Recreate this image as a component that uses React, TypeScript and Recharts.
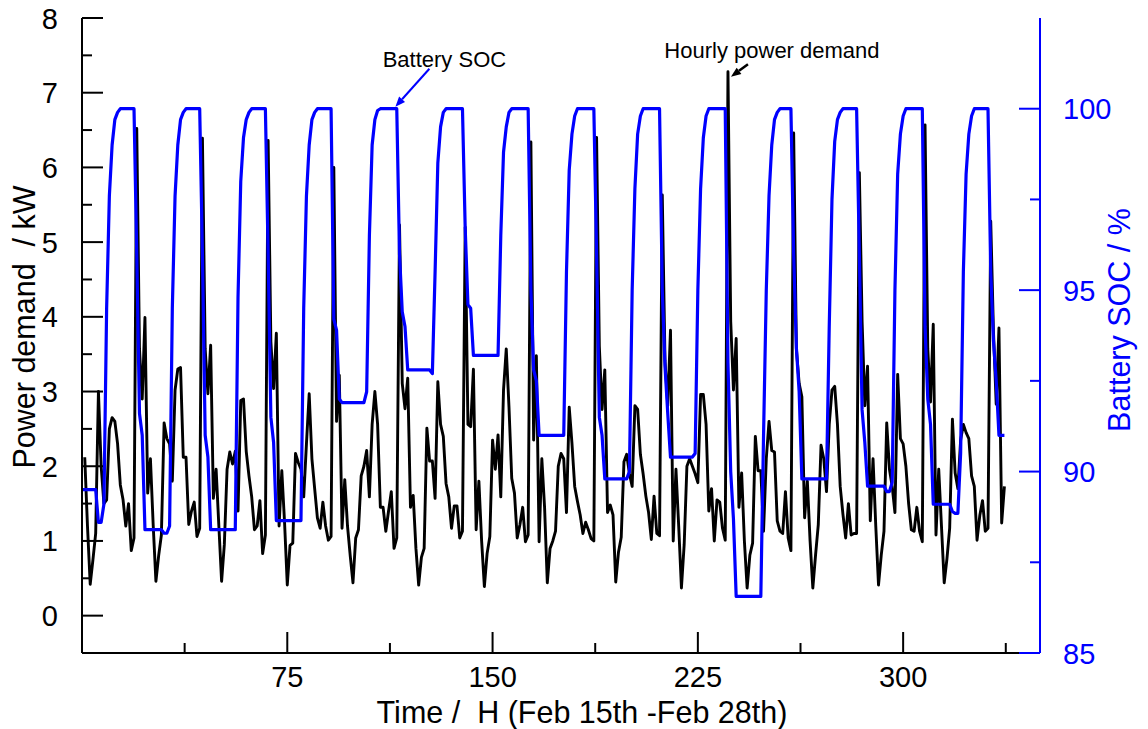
import React from 'react';
import { ComposedChart, Line, XAxis, YAxis, ReferenceDot } from 'recharts';

// Battery state of charge (%) for hours 0..337
const socPercent: number[] = [
  89.5, 89.5, 89.5, 89.5, 89.5, 89.5, 88.6, 88.6, 89.1, 94.5, 97.6, 99.0, 99.7, 99.9, 100, 100, 100, 100, 100, 100, 96, 91.6, 91.0, 88.4,
  88.4, 88.4, 88.4, 88.4, 88.4, 88.4, 88.3, 88.3, 88.5, 94.5, 97.6, 99.0, 99.7, 99.9, 100, 100, 100, 100, 100, 100, 96, 91.0, 90.4, 88.4,
  88.4, 88.4, 88.4, 88.4, 88.4, 88.4, 88.4, 88.4, 88.4, 94.8, 98.0, 99.2, 99.7, 99.9, 100, 100, 100, 100, 100, 100, 96, 91.5, 90.8, 88.65,
  88.65, 88.65, 88.65, 88.65, 88.65, 88.65, 88.65, 88.65, 88.65, 94.5, 97.6, 99.0, 99.7, 99.9, 100, 100, 100, 100, 100, 100, 94.2, 93.9, 92.0, 91.9,
  91.9, 91.9, 91.9, 91.9, 91.9, 91.9, 91.9, 91.9, 92.2, 96.5, 99.0, 99.7, 99.95, 100, 100, 100, 100, 100, 100, 100, 96, 94.4, 94.0, 92.8,
  92.8, 92.8, 92.8, 92.8, 92.8, 92.8, 92.8, 92.8, 92.7, 95.5, 98.5, 99.5, 99.9, 100, 100, 100, 100, 100, 100, 100, 96.7, 94.6, 94.5, 93.2,
  93.2, 93.2, 93.2, 93.2, 93.2, 93.2, 93.2, 93.2, 93.2, 96.5, 98.8, 99.5, 99.9, 100, 100, 100, 100, 100, 100, 100, 95, 92.8, 92.5, 91.0,
  91.0, 91.0, 91.0, 91.0, 91.0, 91.0, 91.0, 91.0, 91.0, 95.5, 98.3, 99.3, 99.8, 100, 100, 100, 100, 100, 100, 100, 96, 91.5, 91.0, 89.8,
  89.8, 89.8, 89.8, 89.8, 89.8, 89.8, 89.8, 89.8, 90.0, 95, 97.8, 99.3, 99.8, 100, 100, 100, 100, 100, 100, 100, 95, 92.9, 91.6, 90.4,
  90.4, 90.4, 90.4, 90.4, 90.4, 90.4, 90.4, 90.4, 90.5, 95, 97.8, 99.2, 99.8, 100, 100, 100, 100, 100, 100, 100, 93, 90, 88.7, 86.56,
  86.56, 86.56, 86.56, 86.56, 86.56, 86.56, 86.56, 86.56, 86.56, 91, 95, 97.6, 99, 99.7, 99.9, 100, 100, 100, 100, 100, 96, 93.4, 92.2, 89.8,
  89.8, 89.8, 89.8, 89.8, 89.8, 89.8, 89.8, 89.8, 89.8, 94, 97.5, 99.1, 99.7, 99.9, 100, 100, 100, 100, 100, 100, 96, 91.7, 90.8, 89.6,
  89.6, 89.6, 89.6, 89.6, 89.6, 89.6, 89.45, 89.45, 89.7, 95, 98.2, 99.3, 99.8, 100, 100, 100, 100, 100, 100, 100, 94, 92, 91.3, 89.1,
  89.1, 89.1, 89.1, 89.1, 89.1, 89.1, 88.9, 88.85, 88.85, 90.5, 95.5, 98.2, 99.3, 99.8, 100, 100, 100, 100, 100, 100, 95.5, 93.6, 92.5, 91.0,
  91.0, 91.0,
];

// Hourly power demand (kW) for hours 0..337 (no value at hour 0)
const powerDemandKW: (number | null)[] = [
  null, 2.12, 1.2, 0.42, 0.75, 1.1, 3.0, 2.0, 1.5, 1.55, 2.5, 2.65, 2.6, 2.3, 1.75, 1.55, 1.2, 1.5, 0.87, 1.04, 6.52, 3.57, 2.9, 3.99,
  1.64, 2.1, 1.22, 0.46, 0.8, 1.08, 2.58, 2.37, 2.3, 1.8, 3.02, 3.3, 3.32, 2.12, 2.12, 1.22, 1.4, 1.52, 1.06, 1.17, 6.39, 3.57, 2.97, 3.62,
  1.57, 1.96, 1.2, 0.46, 0.95, 1.96, 2.19, 2.03, 2.2, 1.4, 2.88, 2.9, 2.2, 1.87, 1.59, 1.15, 1.2, 1.54, 0.83, 1.08, 6.36, 3.67, 3.04, 3.78,
  1.2, 1.94, 1.25, 0.41, 0.94, 0.97, 2.17, 2.05, 1.96, 1.59, 2.3, 2.97, 2.1, 1.7, 1.31, 1.17, 1.52, 1.2, 1.01, 1.06, 6.0, 2.6, 3.22, 1.17,
  1.82, 1.2, 0.8, 0.44, 1.04, 1.15, 1.87, 2.0, 2.21, 1.59, 2.56, 3.0, 2.56, 1.45, 1.45, 1.13, 1.4, 1.66, 0.9, 1.04, 5.23, 3.11, 2.77, 3.18,
  1.45, 1.61, 0.9, 0.41, 0.78, 0.9, 2.51, 2.07, 2.07, 1.57, 3.13, 2.56, 2.4, 1.77, 1.59, 1.17, 1.47, 1.47, 1.04, 1.13, 5.2, 2.56, 2.53, 3.3,
  1.15, 1.8, 1.0, 0.39, 0.83, 1.06, 2.35, 1.96, 2.42, 1.59, 3.02, 3.57, 2.79, 1.84, 1.64, 1.04, 1.22, 1.45, 0.99, 1.08, 6.34, 2.35, 3.48, 0.99,
  2.1, 1.45, 0.44, 0.9, 1.0, 1.13, 2.0, 2.17, 2.1, 1.38, 2.79, 2.31, 1.73, 1.53, 1.35, 1.1, 1.25, 1.15, 1.03, 1.0, 6.4, 3.61, 2.76, 3.29,
  1.38, 1.48, 1.35, 0.45, 0.85, 1.05, 2.06, 2.16, 1.9, 1.73, 2.81, 2.76, 2.16, 1.9, 1.6, 1.38, 1.02, 1.6, 1.1, 1.07, 5.63, 3.41, 2.81, 3.82,
  1.0, 1.96, 1.2, 0.37, 0.95, 2.0, 2.1, 2.0, 1.9, 1.78, 2.96, 2.96, 2.56, 1.4, 1.7, 1.0, 1.55, 1.52, 1.17, 1.01, 7.28, 3.94, 3.02, 3.71,
  1.45, 1.91, 1.0, 0.37, 0.81, 0.97, 2.4, 1.94, 1.94, 1.13, 2.1, 2.6, 2.21, 2.19, 1.27, 1.13, 1.1, 1.66, 1.04, 0.87, 6.46, 3.57, 3.11, 2.93,
  1.31, 1.8, 1.0, 0.37, 0.81, 1.22, 2.28, 2.1, 1.66, 2.56, 3.02, 3.07, 2.56, 1.73, 1.36, 1.04, 1.5, 1.08, 1.1, 1.1, 5.93, 3.94, 2.81, 3.34,
  1.27, 2.1, 1.2, 0.41, 0.81, 1.13, 2.58, 1.96, 1.73, 1.38, 3.23, 2.37, 2.3, 2.0, 1.5, 1.15, 1.13, 1.45, 1.13, 0.99, 6.57, 3.57, 2.86, 3.9,
  1.08, 1.96, 1.2, 0.44, 0.76, 1.17, 2.63, 1.91, 1.7, 2.35, 2.56, 2.45, 2.37, 1.87, 1.73, 1.01, 1.34, 1.54, 1.13, 1.17, 5.28, 3.8, 2.83, 3.85,
  1.24, 1.73,
];

const hours: number[] = socPercent.map((_, i) => i);

const xMajorTicks = [75, 150, 225, 300];
const xMinorTicks = [37.5, 112.5, 187.5, 262.5, 337.5];
const powerMajorTicks = [0, 1, 2, 3, 4, 5, 6, 7, 8];
const powerMinorTicks = [0.5, 1.5, 2.5, 3.5, 4.5, 5.5, 6.5, 7.5];
const socMajorTicks = [85, 90, 95, 100];
const socMinorTicks = [87.5, 92.5, 97.5];

const xTitle = 'Time /  H (Feb 15th -Feb 28th)';
const powerTitle = 'Power demand  / kW';
const socTitle = 'Battery SOC / %';
const socNote = 'Battery SOC';
const powerNote = 'Hourly power demand';
const socNoteAt = { hour: 114.5, soc: 100 };
const powerNoteAt = { hour: 236, power: 7.28 };

const data = hours.map((h, i) => ({ hour: h, power: powerDemandKW[i], soc: socPercent[i] }));

const FONT = '"Liberation Sans", Arial, Helvetica, sans-serif';
const BLUE = '#0000ff';

type Side = 'bottom' | 'top' | 'left' | 'right';

function makeTick(side: Side, majors: number[], color: string, showLabels: boolean) {
  return function Tick(props: any) {
    const { x, y, payload } = props;
    const v = Number(payload.value);
    const major = majors.indexOf(v) >= 0;
    const len = major ? 21 : 10;
    let x2 = x;
    let y2 = y;
    if (side === 'bottom') y2 = y - len;
    if (side === 'top') y2 = y + len;
    if (side === 'left') x2 = x + len;
    if (side === 'right') x2 = x - len;
    let label: React.ReactNode = null;
    if (showLabels && major) {
      const common = { fontFamily: FONT, fontSize: 29, fill: color };
      if (side === 'bottom')
        label = (
          <text x={x} y={y + 34} textAnchor="middle" {...common}>
            {v}
          </text>
        );
      if (side === 'left')
        label = (
          <text x={x - 24} y={y + 10.5} textAnchor="end" {...common}>
            {v}
          </text>
        );
      if (side === 'right')
        label = (
          <text x={x + 23} y={y + 10.5} textAnchor="start" {...common}>
            {v}
          </text>
        );
    }
    return (
      <g>
        <line x1={x} y1={y} x2={x2} y2={y2} stroke={color} strokeWidth={2} />
        {label}
      </g>
    );
  };
}

function Arrow({ x1, y1, x2, y2, color, width }: any) {
  const dx = x2 - x1;
  const dy = y2 - y1;
  const L = Math.hypot(dx, dy) || 1;
  const ux = dx / L;
  const uy = dy / L;
  const hl = 10;
  const hw = 4;
  const bx = x2 - ux * hl;
  const by = y2 - uy * hl;
  const pts = `${x2},${y2} ${bx - uy * hw},${by + ux * hw} ${bx + uy * hw},${by - ux * hw}`;
  return (
    <g>
      <line x1={x1} y1={y1} x2={bx} y2={by} stroke={color} strokeWidth={width} />
      <polygon points={pts} fill={color} />
    </g>
  );
}

const socNoteShape = (p: any) => {
  const { cx, cy } = p;
  return (
    <g>
      <Arrow x1={cx + 34} y1={cy - 40} x2={cx} y2={cy - 2} color={BLUE} width={2} />
      <text x={cx + 49} y={cy - 42} textAnchor="middle" fontFamily={FONT} fontSize={22} fill="#000">
        {socNote}
      </text>
    </g>
  );
};

const powerNoteShape = (p: any) => {
  const { cx, cy } = p;
  return (
    <g>
      <Arrow x1={cx + 20} y1={cy - 7.5} x2={cx + 3} y2={cy + 5} color="#000" width={2.5} />
      <text x={cx + 44} y={cy - 13.5} textAnchor="middle" fontFamily={FONT} fontSize={22} fill="#000">
        {powerNote}
      </text>
    </g>
  );
};

export default function App() {
  const W = 1140;
  const H = 721;
  return (
    <div style={{ position: 'relative', width: W, height: H }}>
      <style>{'html,body{overflow:hidden} .recharts-surface{overflow:visible}'}</style>
      <ComposedChart width={W} height={H} data={data} margin={{ top: 10, right: 0, bottom: 0, left: 0 }}>
        <XAxis
          xAxisId="x"
          dataKey="hour"
          type="number"
          domain={[0, 350]}
          allowDataOverflow
          ticks={[...xMinorTicks, ...xMajorTicks].sort((a, b) => a - b)}
          interval={0}
          height={76}
          tickSize={0}
          tickMargin={0}
          tickLine={false}
          axisLine={{ stroke: '#000', strokeWidth: 2 }}
          tick={makeTick('bottom', xMajorTicks, '#000', true)}
        />
        <XAxis
          xAxisId="top"
          orientation="top"
          dataKey="hour"
          type="number"
          domain={[0, 350]}
          allowDataOverflow
          ticks={[...xMinorTicks, ...xMajorTicks].sort((a, b) => a - b)}
          interval={0}
          height={0}
          tickSize={0}
          tickMargin={0}
          tickLine={false}
          axisLine={{ stroke: '#000', strokeWidth: 2 }}
          tick={makeTick('top', xMajorTicks, '#000', false)}
        />
        <YAxis
          yAxisId="power"
          orientation="left"
          type="number"
          domain={[-0.5, 8]}
          allowDataOverflow
          ticks={[...powerMajorTicks, ...powerMinorTicks].sort((a, b) => a - b)}
          interval={0}
          width={74}
          tickSize={0}
          tickMargin={0}
          tickLine={false}
          axisLine={{ stroke: '#000', strokeWidth: 2 }}
          tick={makeTick('left', powerMajorTicks, '#000', true)}
        />
        <YAxis
          yAxisId="soc"
          orientation="right"
          type="number"
          domain={[85, 102.5]}
          allowDataOverflow
          ticks={[...socMajorTicks, ...socMinorTicks].sort((a, b) => a - b)}
          interval={0}
          width={108}
          tickSize={0}
          tickMargin={0}
          tickLine={false}
          axisLine={{ stroke: BLUE, strokeWidth: 2 }}
          tick={makeTick('right', socMajorTicks, BLUE, true)}
        />
        <Line
          xAxisId="x"
          yAxisId="power"
          type="linear"
          dataKey="power"
          stroke="#000"
          strokeWidth={2.9}
          strokeLinejoin="round"
          dot={false}
          activeDot={false}
          isAnimationActive={false}
        />
        <Line
          xAxisId="x"
          yAxisId="soc"
          type="linear"
          dataKey="soc"
          stroke={BLUE}
          strokeWidth={3.2}
          strokeLinejoin="round"
          dot={false}
          activeDot={false}
          isAnimationActive={false}
        />
        <ReferenceDot
          xAxisId="x"
          yAxisId="soc"
          x={socNoteAt.hour}
          y={socNoteAt.soc}
          r={0}
          ifOverflow="visible"
          shape={socNoteShape}
        />
        <ReferenceDot
          xAxisId="x"
          yAxisId="power"
          x={powerNoteAt.hour}
          y={powerNoteAt.power}
          r={0}
          ifOverflow="visible"
          shape={powerNoteShape}
        />
      </ComposedChart>
      <svg
        width={W}
        height={H}
        style={{ position: 'absolute', left: 0, top: 0, pointerEvents: 'none', overflow: 'visible' }}
      >
        <text x={574} y={715} textAnchor="middle" fontFamily={FONT} fontSize={30.5} fill="#000" style={{ whiteSpace: 'pre' }}>
          {xTitle}
        </text>
        <text
          x={27}
          y={319}
          textAnchor="middle"
          fontFamily={FONT}
          fontSize={30.5}
          fill="#000"
          style={{ whiteSpace: 'pre' }}
          transform="rotate(-90 27 319)"
        >
          {powerTitle}
        </text>
        <text
          x={1122}
          y={312}
          textAnchor="middle"
          fontFamily={FONT}
          fontSize={30.5}
          fill={BLUE}
          style={{ whiteSpace: 'pre' }}
          transform="rotate(-90 1122 312)"
        >
          {socTitle}
        </text>
      </svg>
    </div>
  );
}
